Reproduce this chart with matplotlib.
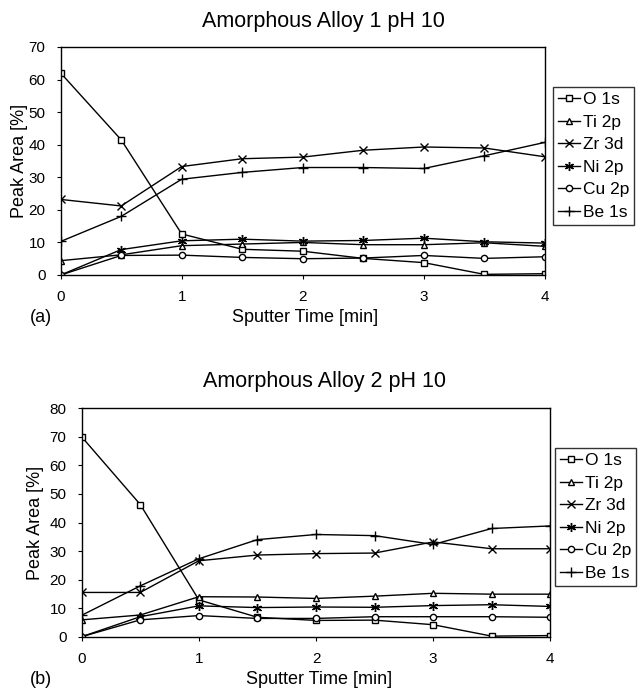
import numpy as np
import matplotlib
matplotlib.use('Agg')
import matplotlib.pyplot as plt

plt.rcParams['font.family'] = ['Liberation Sans', 'DejaVu Sans']

# Sputter time (min)
TIME = [0, 0.5, 1, 1.5, 2, 2.5, 3, 3.5, 4]
SERIES = ['O 1s', 'Ti 2p', 'Zr 3d', 'Ni 2p', 'Cu 2p', 'Be 1s']

# Alloy 1, pH 10 - peak area (%)
A1_O  = [62.0, 41.5, 12.6, 7.9, 7.3, 5.1, 3.8, 0.2, 0.4]
A1_TI = [4.4, 6.2, 9.0, 9.5, 10.0, 9.3, 9.3, 9.9, 8.8]
A1_ZR = [23.2, 21.2, 33.3, 35.7, 36.2, 38.3, 39.3, 39.0, 36.3]
A1_NI = [0.0, 7.8, 10.5, 11.0, 10.4, 10.6, 11.3, 10.2, 9.8]
A1_CU = [0.0, 6.0, 6.1, 5.4, 5.0, 5.2, 6.0, 5.1, 5.6]
A1_BE = [10.3, 18.0, 29.4, 31.5, 33.0, 33.0, 32.7, 36.6, 40.7]

# Alloy 2, pH 10 - peak area (%)
A2_O  = [70.0, 46.3, 12.9, 6.8, 5.7, 5.8, 4.2, 0.2, 0.4]
A2_TI = [5.9, 7.6, 14.0, 13.9, 13.4, 14.2, 15.2, 14.9, 14.9]
A2_ZR = [15.5, 15.5, 26.6, 28.6, 29.1, 29.3, 33.2, 30.8, 30.8]
A2_NI = [0.0, 7.0, 10.8, 10.2, 10.4, 10.3, 10.9, 11.2, 10.6]
A2_CU = [0.0, 5.9, 7.4, 6.4, 6.4, 7.0, 7.0, 7.0, 6.8]
A2_BE = [7.5, 17.8, 27.3, 34.0, 35.8, 35.4, 32.3, 37.9, 38.8]

STYLES = [
    dict(marker='s', ms=4.5, mfc='white'),
    dict(marker='^', ms=5, mfc='white'),
    dict(marker='x', ms=6, mew=1.0),
    dict(marker=(6, 2, 0), ms=6.5, mew=1.0),
    dict(marker='o', ms=4.5, mfc='white'),
    dict(marker='+', ms=7, mew=1.0),
]

fig = plt.figure(figsize=(6.41, 6.90), dpi=100)
W, H = 641, 690


def panel(rect, data, ymax, title, title_xy, xl_xy, ylab_x, leg_xy):
    ax = fig.add_axes(rect)
    for name, vals, st in zip(SERIES, data, STYLES):
        ax.plot(TIME, vals, color='black', lw=1.0, mec='black',
                label=name, **st)
    ax.set_xlim(0, 4)
    ax.set_ylim(0, ymax)
    ax.set_xticks(range(5))
    ax.set_yticks(range(0, ymax + 1, 10))
    ax.tick_params(labelsize=11, length=3, width=0.8, pad=8)
    for sp in ax.spines.values():
        sp.set_linewidth(1.0)
    fig.text(*title_xy, title, ha='center', va='center', fontsize=15.5)
    fig.text(*xl_xy, 'Sputter Time [min]', ha='center', va='center', fontsize=13)
    fig.text(ylab_x, rect[1] + rect[3] / 2, 'Peak Area [%]', rotation=90,
             ha='center', va='center', fontsize=13)
    ax.legend(loc='upper left', bbox_to_anchor=leg_xy,
              bbox_transform=fig.transFigure, frameon=True, fancybox=False,
              edgecolor='black', fontsize=12.5, handlelength=1.25,
              handletextpad=0.15, borderpad=0.3, borderaxespad=0,
              labelspacing=0.42)
    return ax


panel([60.7 / W, 1 - 275 / H, 484 / W, 228 / H],
      [A1_O, A1_TI, A1_ZR, A1_NI, A1_CU, A1_BE], 70,
      'Amorphous Alloy 1 pH 10', (323 / W, 1 - 22 / H),
      (305 / W, 1 - 318 / H), 20 / W, (553 / W, 1 - 87 / H))
fig.text(41 / W, 1 - 318 / H, '(a)', ha='center', va='center', fontsize=13)

panel([81.7 / W, 1 - 636.7 / H, 468.6 / W, 228.4 / H],
      [A2_O, A2_TI, A2_ZR, A2_NI, A2_CU, A2_BE], 80,
      'Amorphous Alloy 2 pH 10', (325 / W, 1 - 382 / H),
      (319 / W, 1 - 680 / H), 35 / W, (555 / W, 1 - 448 / H))
fig.text(41 / W, 1 - 680 / H, '(b)', ha='center', va='center', fontsize=13)

fig.savefig('out.png', dpi=100)
